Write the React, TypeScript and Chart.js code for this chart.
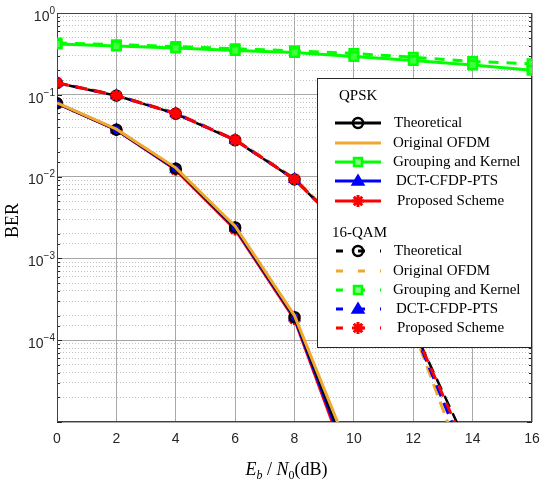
import React, { useEffect, useRef } from "react";
import { Chart, registerables } from "chart.js";

Chart.register(...registerables);

// ---- data ----
const snrQpsk = [0, 2, 4, 6, 8, 10];
const snrQam = [0, 2, 4, 6, 8, 10, 12, 14];
const snrAll = [0, 2, 4, 6, 8, 10, 12, 14, 16];
const xTicks = [0, 2, 4, 6, 8, 10, 12, 14, 16];
const yExponents = [0, -1, -2, -3, -4];

const qpskTheoretical = [0.0786, 0.0375, 0.0125, 0.00239, 1.91e-4, 2.5e-6];
const qpskOriginal = [0.0795, 0.038, 0.0128, 0.00248, 2.0e-4, 3.2e-6];
const qpskGrouping = [0.419, 0.396, 0.374, 0.347, 0.328, 0.293, 0.263, 0.232, 0.2];
const qpskDct = [0.0786, 0.0375, 0.0124, 0.00236, 1.88e-4, 2.2e-6];
const qpskProposed = [0.0786, 0.0372, 0.0121, 0.00226, 1.8e-4, 1.9e-6];

const qamTheoretical = [0.139, 0.0977, 0.0586, 0.0278, 0.00924, 0.00175, 1.39e-4, 3.8e-6];
const qamOriginal = [0.141, 0.099, 0.06, 0.0285, 0.0095, 0.0018, 1.35e-4, 1.5e-6];
const qamGrouping = [0.43, 0.41, 0.39, 0.365, 0.345, 0.32, 0.288, 0.255, 0.24];
const qamDct = [0.14, 0.098, 0.059, 0.028, 0.0093, 0.00176, 1.38e-4, 2.4e-6];
const qamProposed = [0.14, 0.098, 0.059, 0.028, 0.0093, 0.00177, 1.4e-4, 3.2e-6];

const seriesNames = ["Theoretical", "Original OFDM", "Grouping and Kernel", "DCT-CFDP-PTS", "Proposed Scheme"];

const BLACK = "#000000";
const ORANGE = "#f0a830";
const GREEN = "#00ff00";
const BLUE = "#0000ff";
const RED = "#ff0000";

const SERIF = '"Liberation Serif", "Times New Roman", serif';
const SANS = '"Liberation Sans", Arial, sans-serif';

function pts(xs: number[], ys: number[]) {
  return ys.map((y, i) => ({ x: xs[i], y }));
}

function drawMarker(ctx: CanvasRenderingContext2D, kind: string, x: number, y: number, color: string) {
  ctx.save();
  ctx.setLineDash([]);
  if (kind === "circle") {
    ctx.strokeStyle = color;
    ctx.lineWidth = 2.5;
    ctx.beginPath();
    ctx.arc(x, y, 5, 0, Math.PI * 2);
    ctx.stroke();
  } else if (kind === "rect") {
    ctx.fillStyle = "#80ff80";
    ctx.strokeStyle = color;
    ctx.lineWidth = 2.5;
    ctx.beginPath();
    ctx.rect(x - 4, y - 4, 8, 8);
    ctx.fill();
    ctx.stroke();
  } else if (kind === "triangle") {
    ctx.fillStyle = color;
    ctx.strokeStyle = color;
    ctx.lineWidth = 1.5;
    ctx.beginPath();
    ctx.moveTo(x, y - 6);
    ctx.lineTo(x + 6, y + 4);
    ctx.lineTo(x - 6, y + 4);
    ctx.closePath();
    ctx.fill();
    ctx.stroke();
  } else if (kind === "star") {
    ctx.strokeStyle = color;
    ctx.lineWidth = 3;
    const r = 6;
    ctx.beginPath();
    for (let k = 0; k < 4; k++) {
      const a = (k * Math.PI) / 4;
      ctx.moveTo(x - r * Math.cos(a), y - r * Math.sin(a));
      ctx.lineTo(x + r * Math.cos(a), y + r * Math.sin(a));
    }
    ctx.stroke();
  }
  ctx.restore();
}

const legendStyles = [
  { color: BLACK, marker: "circle" },
  { color: ORANGE, marker: "" },
  { color: GREEN, marker: "rect" },
  { color: BLUE, marker: "triangle" },
  { color: RED, marker: "star" },
];

const decorPlugin = {
  id: "decor",
  beforeDatasetsDraw(chart: any) {
    const { ctx, chartArea: a } = chart;
    const ys = chart.scales.y;
    ctx.save();
    ctx.strokeStyle = "#262626";
    ctx.lineWidth = 1;
    ys.ticks.forEach((t: any) => {
      const py = Math.round(ys.getPixelForValue(t.value)) + 0.5;
      const lg = Math.log10(t.value);
      const major = Math.abs(lg - Math.round(lg)) < 1e-6;
      const len = major ? 5 : 3;
      ctx.beginPath();
      ctx.moveTo(a.left, py);
      ctx.lineTo(a.left + len, py);
      ctx.moveTo(a.right, py);
      ctx.lineTo(a.right - len, py);
      ctx.stroke();
    });
    ctx.strokeStyle = "#404040";
    ctx.lineWidth = 1;
    ctx.strokeRect(Math.round(a.left) + 0.5, Math.round(a.top) + 0.5, Math.round(a.right - a.left) - 1, Math.round(a.bottom - a.top) - 1);
    ctx.restore();
  },
  afterDraw(chart: any) {
    const { ctx, chartArea: a } = chart;
    const ys = chart.scales.y;
    ctx.save();
    ctx.fillStyle = "#262626";
    ctx.textBaseline = "middle";
    ctx.textAlign = "right";
    const rx = a.left - 2;
    yExponents.forEach((e) => {
      const py = ys.getPixelForValue(Math.pow(10, e));
      const sup = e === 0 ? "0" : "\u2212" + String(-e);
      ctx.font = `10px ${SANS}`;
      const sw = ctx.measureText(sup).width;
      ctx.fillText(sup, rx, py - 2);
      ctx.font = `14px ${SANS}`;
      ctx.fillText("10", rx - sw, py + 4);
    });

    ctx.save();
    ctx.translate(13, (a.top + a.bottom) / 2 + 3);
    ctx.rotate(-Math.PI / 2);
    ctx.textAlign = "center";
    ctx.textBaseline = "middle";
    ctx.fillStyle = "#000";
    ctx.font = `18px ${SERIF}`;
    ctx.fillText("BER", 0, 0);
    ctx.restore();

    const parts = [
      { t: "E", f: `italic 18px ${SERIF}`, dy: 0 },
      { t: "b", f: `italic 12px ${SERIF}`, dy: 4 },
      { t: " / ", f: `18px ${SERIF}`, dy: 0 },
      { t: "N", f: `italic 18px ${SERIF}`, dy: 0 },
      { t: "0", f: `12px ${SERIF}`, dy: 4 },
      { t: "(dB)", f: `18px ${SERIF}`, dy: 0 },
    ];
    let total = 0;
    parts.forEach((p) => {
      ctx.font = p.f;
      total += ctx.measureText(p.t).width;
    });
    let cx = (a.left + a.right) / 2 - total / 2 - 8;
    const baseY = 475;
    ctx.textAlign = "left";
    ctx.textBaseline = "alphabetic";
    ctx.fillStyle = "#000";
    parts.forEach((p) => {
      ctx.font = p.f;
      ctx.fillText(p.t, cx, baseY + p.dy);
      cx += ctx.measureText(p.t).width;
    });

    const lx = 317, ly = 78, lw = a.right - 317, lh = 270;
    ctx.fillStyle = "#ffffff";
    ctx.fillRect(lx, ly, lw, lh);
    ctx.strokeStyle = "#262626";
    ctx.lineWidth = 1;
    ctx.strokeRect(lx + 0.5, ly + 0.5, lw - 1, lh - 1);

    ctx.fillStyle = "#000";
    ctx.font = `15px ${SERIF}`;
    ctx.textAlign = "left";
    ctx.textBaseline = "middle";
    ctx.fillText("QPSK", 339, 96);
    ctx.fillText("16-QAM", 332, 233);

    const qpskRows = [123, 143, 162, 181, 201];
    const qamRows = [251, 271, 290, 309, 328];
    const textX = [394, 393, 393, 396, 397];
    qpskRows.forEach((ry, i) => {
      const s = legendStyles[i];
      ctx.save();
      ctx.strokeStyle = s.color;
      ctx.lineWidth = 3;
      ctx.beginPath();
      ctx.moveTo(335, ry);
      ctx.lineTo(381, ry);
      ctx.stroke();
      ctx.restore();
      if (s.marker) drawMarker(ctx, s.marker, 358, ry, s.color);
      ctx.fillStyle = "#000";
      ctx.font = `15px ${SERIF}`;
      ctx.fillText(seriesNames[i], textX[i], ry);
    });
    qamRows.forEach((ry, i) => {
      const s = legendStyles[i];
      ctx.save();
      ctx.strokeStyle = s.color;
      ctx.lineWidth = 3;
      ctx.setLineDash([7, 15]);
      ctx.beginPath();
      ctx.moveTo(336, ry);
      ctx.lineTo(381, ry);
      ctx.stroke();
      ctx.restore();
      if (s.marker) drawMarker(ctx, s.marker, 358, ry, s.color);
      ctx.fillStyle = "#000";
      ctx.font = `15px ${SERIF}`;
      ctx.fillText(seriesNames[i], textX[i], ry);
    });
    ctx.restore();
  },
};

const isMajorLog = (v: number) => {
  const lg = Math.log10(v);
  return Math.abs(lg - Math.round(lg)) < 1e-6;
};

export default function App() {
  const ref = useRef<HTMLCanvasElement | null>(null);

  useEffect(() => {
    if (!ref.current) return;
    const dash = [12, 7];
    const chart = new Chart(ref.current, {
      type: "line",
      data: {
        datasets: [
          { label: "QPSK " + seriesNames[1], data: pts(snrQpsk, qpskOriginal), borderColor: ORANGE, borderWidth: 3, pointRadius: 0, order: 1 },
          { label: "QPSK " + seriesNames[0], data: pts(snrQpsk, qpskTheoretical), borderColor: BLACK, borderWidth: 2.5, pointStyle: "circle", pointRadius: 5, pointBorderWidth: 2.5, pointBorderColor: BLACK, pointBackgroundColor: "rgba(0,0,0,0)", order: 2 },
          { label: "QPSK " + seriesNames[3], data: pts(snrQpsk, qpskDct), borderColor: BLUE, borderWidth: 3, pointStyle: "triangle", pointRadius: 6, pointBorderWidth: 1.5, pointBorderColor: BLUE, pointBackgroundColor: BLUE, order: 3 },
          { label: "QPSK " + seriesNames[4], data: pts(snrQpsk, qpskProposed), borderColor: RED, borderWidth: 3, pointStyle: "star", pointRadius: 6, pointBorderWidth: 3, pointBorderColor: RED, pointBackgroundColor: RED, order: 4 },
          { label: "QPSK " + seriesNames[2], data: pts(snrAll, qpskGrouping), borderColor: GREEN, borderWidth: 3, pointStyle: "rect", pointRadius: 6, pointBorderWidth: 2.5, pointBorderColor: GREEN, pointBackgroundColor: "#40ff40", order: 5 },
          { label: "16-QAM " + seriesNames[2], data: pts(snrAll, qamGrouping), borderColor: GREEN, borderWidth: 3, borderDash: [10, 8], pointStyle: "rect", pointRadius: 6, pointBorderWidth: 2.5, pointBorderColor: GREEN, pointBackgroundColor: "#40ff40", order: 6 },
          { label: "16-QAM " + seriesNames[4], data: pts(snrQam, qamProposed), borderColor: RED, borderWidth: 3, borderDash: dash, pointStyle: "star", pointRadius: 6, pointBorderWidth: 3, pointBorderColor: RED, pointBackgroundColor: RED, order: 7 },
          { label: "16-QAM " + seriesNames[3], data: pts(snrQam, qamDct), borderColor: BLUE, borderWidth: 3, borderDash: dash, borderDashOffset: 1, pointStyle: "triangle", pointRadius: 6, pointBorderWidth: 1.5, pointBorderColor: BLUE, pointBackgroundColor: BLUE, order: 8 },
          { label: "16-QAM " + seriesNames[0], data: pts(snrQam, qamTheoretical), borderColor: BLACK, borderWidth: 2.5, borderDash: dash, borderDashOffset: 7, pointStyle: "circle", pointRadius: 5, pointBorderWidth: 2.5, pointBorderColor: BLACK, pointBackgroundColor: "rgba(0,0,0,0)", order: 9 },
          { label: "16-QAM " + seriesNames[1], data: pts(snrQam, qamOriginal), borderColor: ORANGE, borderWidth: 3, borderDash: dash, borderDashOffset: 3, pointRadius: 0, order: 10 },
        ] as any,
      },
      options: {
        responsive: false,
        animation: false,
        layout: { padding: { left: 0, top: 13, right: 18, bottom: 0 } },
        plugins: { legend: { display: false }, tooltip: { enabled: false } },
        elements: { line: { tension: 0 } },
        scales: {
          x: {
            type: "linear",
            min: 0,
            max: 16,
            afterBuildTicks: (scale: any) => {
              scale.ticks = xTicks.map((v) => ({ value: v }));
            },
            afterFit: (scale: any) => {
              scale.height = 65;
            },
            ticks: { font: { family: SANS, size: 14 }, color: "#262626", padding: 9, maxRotation: 0 },
            grid: { color: "#a8a8a8", lineWidth: 1, drawTicks: false },
            border: { display: false },
          },
          y: {
            type: "logarithmic",
            min: 1e-5,
            max: 1,
            afterFit: (scale: any) => {
              scale.width = 57;
            },
            ticks: { display: false },
            grid: {
              drawTicks: false,
              lineWidth: 1,
              color: (c: any) => (c.tick && isMajorLog(c.tick.value) ? "#a8a8a8" : "#c0c0c0"),
            },
            border: {
              display: false,
              dash: (c: any) => (c.tick && !isMajorLog(c.tick.value) ? [1, 2] : []),
            },
          },
        },
      } as any,
      plugins: [decorPlugin],
    });
    return () => chart.destroy();
  }, []);

  return (
    <div style={{ position: "absolute", left: 0, top: 0, width: 550, height: 487, background: "#fff" }}>
      <canvas ref={ref} width={550} height={487} />
    </div>
  );
}
